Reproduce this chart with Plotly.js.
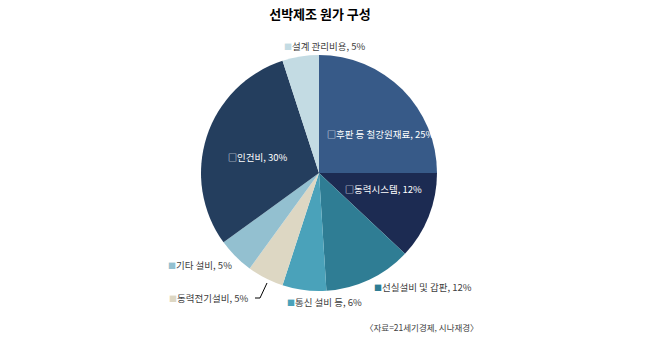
<!DOCTYPE html>
<html>
<head>
<meta charset="utf-8">
<script src="https://cdn.plot.ly/plotly-3.0.1.min.js"></script>
<style>html,body{margin:0;padding:0;background:#fff;}#chart{width:650px;height:354px;}</style>
</head>
<body>
<div id="chart"></div>
<script>
const categories = ["후판 등 철강원재료", "동력시스템", "선실설비 및 갑판", "통신 설비 등", "동력전기설비", "기타 설비", "인건비", "설계 관리비용"];
const values = [25, 12, 12, 6, 5, 5, 30, 5];
const colors = ["#375A88", "#1C2B52", "#2F7D94", "#4AA2BA", "#DDD7C3", "#93C0D0", "#243E5E", "#C3DBE3"];
const insideLabel = [true, true, false, false, false, false, true, false];
const titleText = "선박제조 원가 구성";
const sourceText = "〈자료=21세기경제, 시나재경〉";

const W = 650, H = 354;
const px = x => x / W, py = y => 1 - y / H;
const cx = 319, cy = 173, r = 118;

// label anchor positions (left edge, vertical middle), in pixels
const labelPos = [[325, 134], [343, 189], [372, 287], [285, 302], [167, 298], [166, 265], [226, 157], [282, 46]];

const FONT = "Noto Sans CJK KR, Noto Sans, sans-serif";

const annotations = categories.map((c, i) => {
  const t = c + ", " + values[i] + "%";
  const text = insideLabel[i]
    ? "<span style='font-size:9px'>□</span>" + t
    : "<span style='color:" + colors[i] + ";font-size:8px'>■</span>" + t;
  return {
    xref: "paper", yref: "paper",
    x: px(labelPos[i][0]), y: py(labelPos[i][1]),
    xanchor: "left", yanchor: "middle",
    text: text, showarrow: false,
    font: {family: FONT, size: 9.5, color: insideLabel[i] ? "#FFFFFF" : "#404040"}
  };
});
annotations.push({
  xref: "paper", yref: "paper", x: px(363), y: py(327),
  xanchor: "left", yanchor: "middle", text: sourceText, showarrow: false,
  font: {family: FONT, size: 8.5, color: "#404040"}
});

const data = [{
  type: "pie",
  labels: categories,
  values: values,
  marker: {colors: colors, line: {width: 0}},
  sort: false,
  direction: "clockwise",
  rotation: 0,
  textinfo: "none",
  hoverinfo: "label+percent",
  showlegend: false,
  domain: {x: [px(cx - r), px(cx + r)], y: [py(cy + r), py(cy - r)]}
}];

const layout = {
  width: W, height: H,
  margin: {l: 0, r: 0, t: 0, b: 0},
  paper_bgcolor: "#FFFFFF",
  title: {text: "<b>" + titleText + "</b>", x: px(320), xanchor: "center", y: py(14), yanchor: "middle",
          font: {family: FONT, size: 13, color: "#000000"}},
  annotations: annotations,
  shapes: [{
    type: "path", xref: "paper", yref: "paper",
    path: "M " + px(255) + " " + py(298) + " L " + px(260) + " " + py(298) + " L " + px(267) + " " + py(283),
    line: {color: "#000000", width: 1}
  }]
};

Plotly.newPlot("chart", data, layout, {displayModeBar: false, staticPlot: true});
</script>
</body>
</html>
